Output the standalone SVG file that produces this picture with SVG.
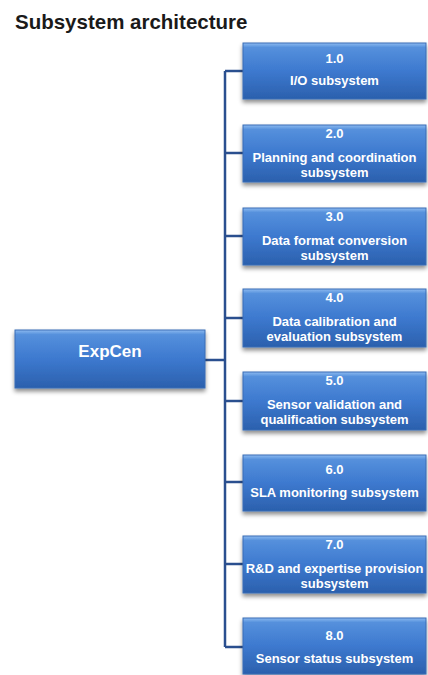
<svg xmlns="http://www.w3.org/2000/svg" width="428" height="675" viewBox="0 0 428 675">
  <defs>
    <linearGradient id="boxGrad" x1="0" y1="0" x2="0" y2="1">
      <stop offset="0" stop-color="#8cbaf0"/>
      <stop offset="0.08" stop-color="#5590dc"/>
      <stop offset="0.5" stop-color="#3d79cf"/>
      <stop offset="1" stop-color="#2b60ad"/>
    </linearGradient>
    <filter id="shadow" x="-10%" y="-20%" width="120%" height="150%">
      <feDropShadow dx="0" dy="3" stdDeviation="2" flood-color="#000" flood-opacity="0.45"/>
    </filter>
  </defs>
  <style>
    .box { fill: url(#boxGrad); stroke: #3a6db5; stroke-width: 1; filter: url(#shadow); }
    .lbl { font-family: "Liberation Sans", Arial, sans-serif; font-weight: bold; font-size: 13px; fill: #ffffff; text-anchor: middle; }
    .root { font-family: "Liberation Sans", Arial, sans-serif; font-weight: bold; font-size: 17px; fill: #ffffff; text-anchor: middle; }
    .title { font-family: "Liberation Sans", Arial, sans-serif; font-weight: bold; font-size: 20.5px; fill: #1a1a1a; }
    .conn { stroke: #2a4f8f; stroke-width: 2.5; fill: none; }
  </style>
  <rect width="428" height="675" fill="#ffffff"/>
  <text class="title" x="15" y="29">Subsystem architecture</text>

  <g id="connectors">
    <line class="conn" x1="225" y1="71" x2="225" y2="647"/>
    <line class="conn" x1="205" y1="360" x2="225" y2="360"/>
    <line class="conn" x1="225" y1="71" x2="243" y2="71"/>
    <line class="conn" x1="225" y1="153" x2="243" y2="153"/>
    <line class="conn" x1="225" y1="236" x2="243" y2="236"/>
    <line class="conn" x1="225" y1="318" x2="243" y2="318"/>
    <line class="conn" x1="225" y1="401" x2="243" y2="401"/>
    <line class="conn" x1="225" y1="482" x2="243" y2="482"/>
    <line class="conn" x1="225" y1="564" x2="243" y2="564"/>
    <line class="conn" x1="225" y1="647" x2="243" y2="647"/>
  </g>

  <g id="root">
    <rect class="box" x="15" y="330" width="190" height="58"/>
    <text class="root" x="110" y="357">ExpCen</text>
  </g>

  <g id="n1">
    <rect class="box" x="243" y="43" width="183" height="56"/>
    <text class="lbl" x="334.5" y="63">1.0</text>
    <text class="lbl" x="334.5" y="85">I/O subsystem</text>
  </g>
  <g id="n2">
    <rect class="box" x="243" y="125" width="183" height="57"/>
    <text class="lbl" x="334.5" y="138">2.0</text>
    <text class="lbl" x="334.5" y="162">Planning and coordination</text>
    <text class="lbl" x="334.5" y="177">subsystem</text>
  </g>
  <g id="n3">
    <rect class="box" x="243" y="208" width="183" height="57"/>
    <text class="lbl" x="334.5" y="221">3.0</text>
    <text class="lbl" x="334.5" y="245">Data format conversion</text>
    <text class="lbl" x="334.5" y="260">subsystem</text>
  </g>
  <g id="n4">
    <rect class="box" x="243" y="289" width="183" height="58"/>
    <text class="lbl" x="334.5" y="302">4.0</text>
    <text class="lbl" x="334.5" y="326">Data calibration and</text>
    <text class="lbl" x="334.5" y="341">evaluation subsystem</text>
  </g>
  <g id="n5">
    <rect class="box" x="243" y="372" width="183" height="58"/>
    <text class="lbl" x="334.5" y="385">5.0</text>
    <text class="lbl" x="334.5" y="409">Sensor validation and</text>
    <text class="lbl" x="334.5" y="424">qualification subsystem</text>
  </g>
  <g id="n6">
    <rect class="box" x="243" y="455" width="183" height="56"/>
    <text class="lbl" x="334.5" y="474">6.0</text>
    <text class="lbl" x="334.5" y="497">SLA monitoring subsystem</text>
  </g>
  <g id="n7">
    <rect class="box" x="243" y="536" width="183" height="57"/>
    <text class="lbl" x="334.5" y="549">7.0</text>
    <text class="lbl" x="334.5" y="573">R&amp;D and expertise provision</text>
    <text class="lbl" x="334.5" y="588">subsystem</text>
  </g>
  <g id="n8">
    <rect class="box" x="243" y="618" width="183" height="56"/>
    <text class="lbl" x="334.5" y="640">8.0</text>
    <text class="lbl" x="334.5" y="663">Sensor status subsystem</text>
  </g>
</svg>
